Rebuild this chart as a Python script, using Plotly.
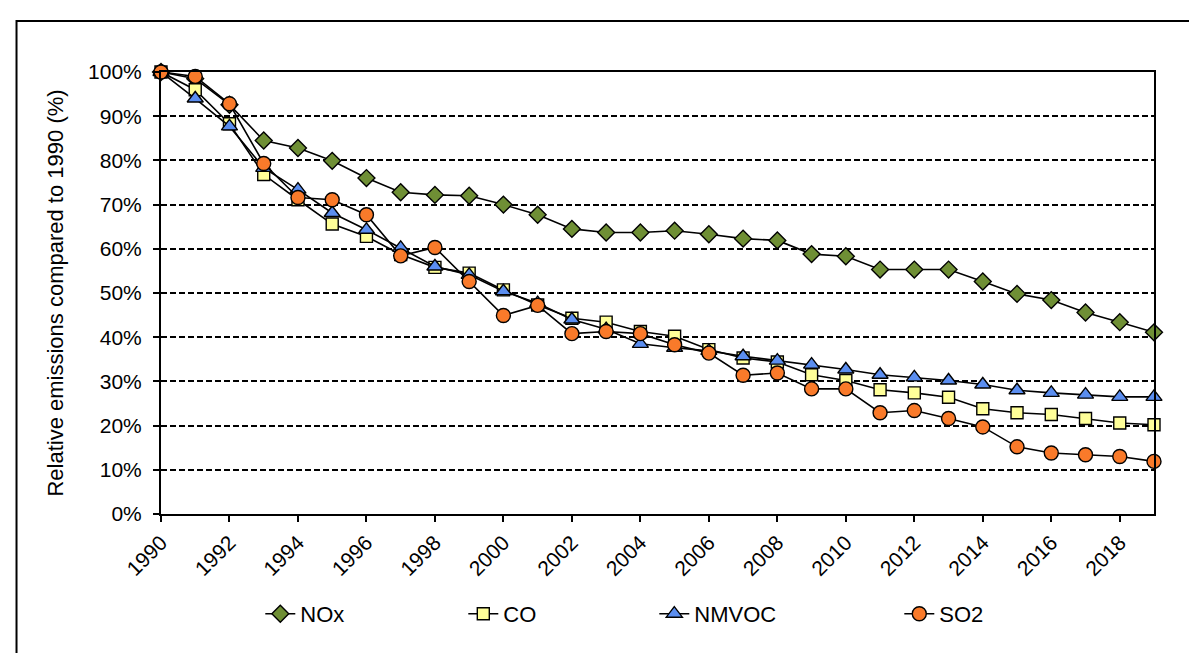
"""Relative emissions of air pollutants compared to 1990."""

import plotly.graph_objects as go

YEARS = list(range(1990, 2020))

NOX = [
    100.0, 98.5, 92.6, 84.5, 82.8, 79.9, 76.0, 72.8, 72.2, 72.0,
    70.0, 67.7, 64.5, 63.7, 63.7, 64.1, 63.3, 62.3, 61.9, 58.8,
    58.3, 55.3, 55.3, 55.3, 52.6, 49.8, 48.4, 45.6, 43.4, 41.1,
]
CO = [
    100.0, 96.0, 88.3, 76.8, 71.1, 65.6, 62.8, 58.7, 55.8, 54.5,
    50.7, 47.3, 44.3, 43.4, 41.3, 40.2, 37.2, 35.3, 34.4, 31.5,
    30.2, 28.1, 27.4, 26.4, 23.8, 22.9, 22.5, 21.6, 20.6, 20.2,
]
NMVOC = [
    100.0, 94.0, 87.7, 78.3, 73.4, 68.1, 64.3, 60.2, 56.0, 54.1,
    50.4, 47.7, 44.0, 41.8, 38.5, 37.6, 36.9, 35.7, 34.7, 33.8,
    32.7, 31.5, 30.9, 30.2, 29.3, 28.0, 27.4, 27.0, 26.5, 26.5,
]
SO2 = [
    100.0, 99.0, 92.8, 79.3, 71.6, 71.1, 67.7, 58.4, 60.3, 52.6,
    44.9, 47.2, 40.8, 41.3, 40.8, 38.3, 36.4, 31.4, 31.9, 28.3,
    28.3, 22.9, 23.4, 21.6, 19.7, 15.2, 13.8, 13.4, 13.0, 11.9,
]

X_TICKS = list(range(1990, 2019, 2))
Y_TICKS = list(range(0, 101, 10))

FONT = "Liberation Sans, Arial, sans-serif"

SERIES = [
    # name, values, symbol, fill colour, marker size, legend entry width
    ("NOx", NOX, "diamond", "#6F8F35", 13, 158),
    ("CO", CO, "square", "#FFFF99", 12, 146),
    ("NMVOC", NMVOC, "triangle-up", "#5B8EF0", 14, 200),
    ("SO2", SO2, "circle", "#F97A2A", 14, 60),
]

figure = go.Figure()

for name, values, symbol, colour, size, entry_width in SERIES:
    figure.add_trace(
        go.Scatter(
            x=YEARS,
            y=values,
            name=name,
            mode="lines+markers",
            line={"color": "black", "width": 1.6},
            marker={
                "symbol": symbol,
                "color": colour,
                "size": size,
                "line": {"color": "black", "width": 1.4},
            },
            legendwidth=entry_width,
            cliponaxis=False,
        )
    )

# outer chart frame (left and top edges are visible in the picture)
figure.add_shape(
    type="rect",
    xref="paper",
    yref="paper",
    x0=-0.1455,
    x1=1.07,
    y0=-0.40,
    y1=1.1154,
    line={"color": "black", "width": 2},
    layer="below",
)

figure.update_layout(
    width=1197,
    height=653,
    margin={"l": 153, "r": 51, "t": 64, "b": 147, "autoexpand": False},
    paper_bgcolor="white",
    plot_bgcolor="white",
    font={"family": FONT, "size": 21, "color": "black"},
    showlegend=True,
    legend={
        "orientation": "h",
        "x": 0.100,
        "xanchor": "left",
        "y": -0.226,
        "yanchor": "middle",
        "font": {"size": 22},
        "itemwidth": 30,
        "bgcolor": "rgba(0,0,0,0)",
    },
)

figure.update_xaxes(
    range=[1990, 2019],
    tickmode="array",
    tickvals=X_TICKS,
    ticktext=[str(year) for year in X_TICKS],
    tickangle=-45,
    ticks="outside",
    ticklen=6,
    tickwidth=2,
    tickcolor="black",
    showgrid=False,
    zeroline=False,
    showline=True,
    linecolor="black",
    linewidth=2,
    mirror=True,
    automargin=False,
    tickfont={"size": 21},
)

figure.update_yaxes(
    range=[0, 100],
    tickmode="array",
    tickvals=Y_TICKS,
    ticktext=[f"{value}%" for value in Y_TICKS],
    ticks="outside",
    ticklen=6,
    tickwidth=2,
    tickcolor="black",
    ticklabelstandoff=7,
    showgrid=True,
    gridcolor="black",
    gridwidth=1.5,
    griddash="6px,3px",
    zeroline=False,
    showline=True,
    linecolor="black",
    linewidth=2,
    mirror=True,
    automargin=False,
    tickfont={"size": 21},
    title={
        "text": "Relative emissions compared to 1990 (%)",
        "font": {"size": 22},
        "standoff": 18,
    },
)

figure.write_html("out.html")
